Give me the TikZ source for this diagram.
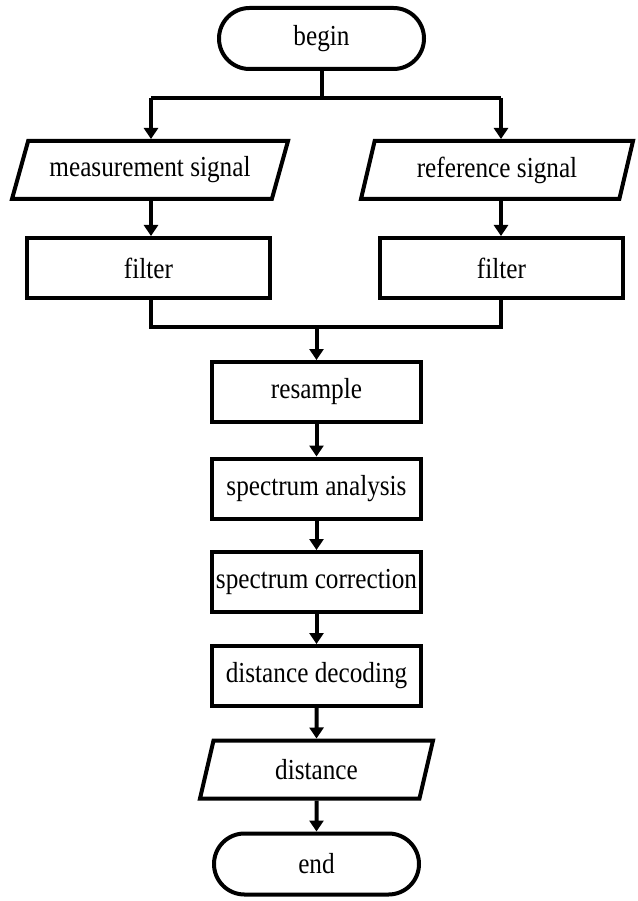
\documentclass[tikz,border=0pt]{standalone}
\usepackage{fontspec}
\setmainfont{Liberation Serif}[FakeStretch=0.87]
\usetikzlibrary{shapes.geometric,shapes.misc,arrows.meta}
\begin{document}
\begin{tikzpicture}[x=1pt,y=-1pt,
  every node/.style={font=\fontsize{29}{32}\selectfont, line width=4pt, inner sep=2pt},
  termbox/.style={draw, rounded rectangle, minimum width=209pt, minimum height=61pt},
  procbox/.style={draw, rectangle, minimum width=209pt, minimum height=60pt},
  iobox/.style={draw, trapezium, trapezium stretches body, minimum height=58pt},
  conn/.style={line width=4pt},
  arr/.style={conn, -{Triangle[width=14pt,length=11pt]}}]
\useasboundingbox (0,0) rectangle (637,901);
% nodes
\node[termbox] (begin) at (321.5,38.5) {begin};
\node[iobox, minimum width=276pt, trapezium left angle=62, trapezium right angle=118] (ms) at (150,170) {measurement signal};
\node[iobox, minimum width=272pt, trapezium left angle=66, trapezium right angle=114] (rs) at (497,170) {reference signal};
\node[procbox, minimum width=243pt] (fl) at (148.5,268) {filter};
\node[procbox, minimum width=243pt] (fr) at (501.5,268) {filter};
\node[procbox] (res) at (316.5,392) {resample};
\node[procbox] (ana) at (316.5,488.5) {spectrum analysis};
\node[procbox] (cor) at (316.5,582) {spectrum correction};
\node[procbox] (dec) at (316.5,676) {distance decoding};
\node[iobox, minimum width=233pt, trapezium left angle=61, trapezium right angle=119] (dist) at (316.5,769.5) {distance};
\node[termbox] (end) at (316.5,864) {end};
% routing coordinates
\coordinate (split) at (321.5,98);
\coordinate (sl) at (151,98);
\coordinate (sr) at (501,98);
\coordinate (join) at (316.5,327);
\coordinate (jl) at (151,327);
\coordinate (jr) at (501,327);
% connectors
\draw[conn] (begin.south) -- (split);
\draw[conn] (sl) -- (sr);
\draw[arr] (sl) -- (sl |- ms.north);
\draw[arr] (sr) -- (sr |- rs.north);
\draw[arr] (sl |- ms.south) -- (sl |- fl.north);
\draw[arr] (sr |- rs.south) -- (sr |- fr.north);
\draw[conn] (sl |- fl.south) -- (jl) -- (jr) -- (sr |- fr.south);
\draw[arr] (join) -- (res.north);
\draw[arr] (res.south) -- (ana.north);
\draw[arr] (ana.south) -- (cor.north);
\draw[arr] (cor.south) -- (dec.north);
\draw[arr] (dec.south) -- (dist.north);
\draw[arr] (dist.south) -- (end.north);
\end{tikzpicture}
\end{document}
